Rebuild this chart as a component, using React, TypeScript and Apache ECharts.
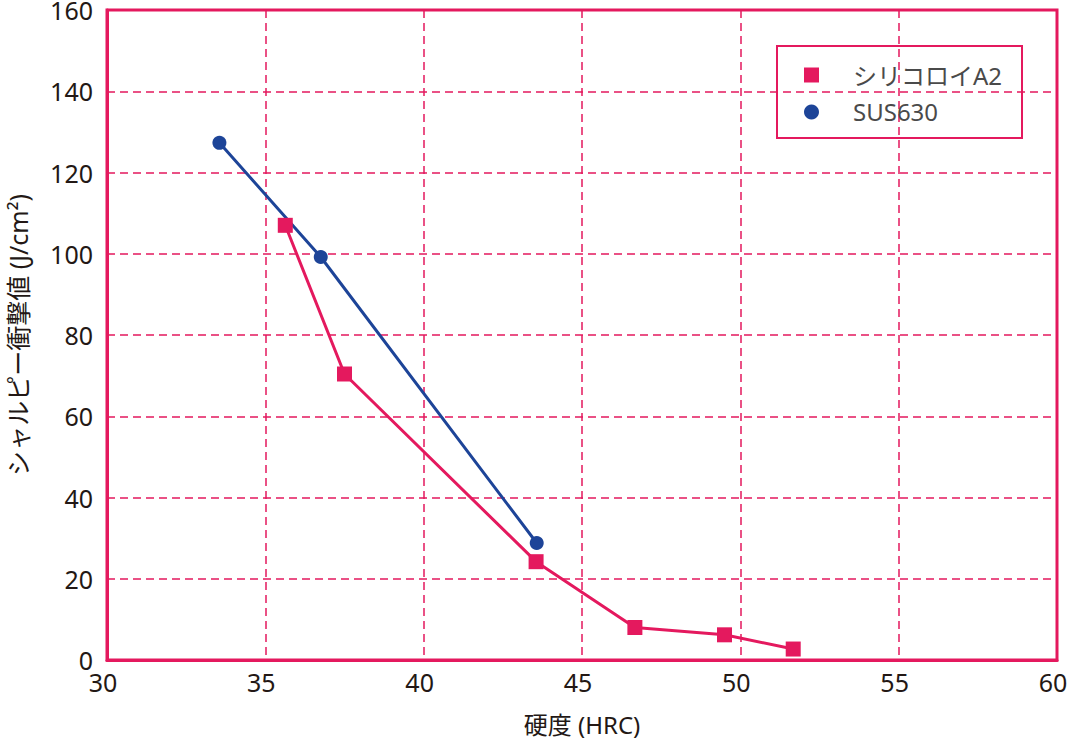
import React, { useEffect, useRef } from "react";
import * as echarts from "echarts";

const seriesNames = ["シリコロイA2", "SUS630"];
const siliconoyA2: [number, number][] = [
  [35.63, 107.0],
  [37.5, 70.4],
  [43.55, 24.2],
  [46.67, 8.0],
  [49.5, 6.2],
  [51.67, 2.7],
];
const sus630: [number, number][] = [
  [33.55, 127.3],
  [36.75, 99.2],
  [43.57, 28.8],
];
const xAxisName = "硬度 (HRC)";
const yAxisName = "シャルピー衝撃値 (J/cm²)";

const PINK = "#E4195E";
const BLUE = "#1D4498";
const TXT = "#231815";
const FONT = "'Noto Sans', 'Noto Sans CJK JP', sans-serif";

export default function App() {
  const ref = useRef<HTMLDivElement>(null);
  useEffect(() => {
    if (!ref.current) return;
    const chart = echarts.init(ref.current, undefined, { renderer: "svg" });
    chart.setOption({
      animation: false,
      backgroundColor: "#ffffff",
      textStyle: { fontFamily: FONT },
      grid: {
        left: 107,
        right: 18,
        top: 10,
        bottom: 82,
        show: true,
        borderColor: PINK,
        borderWidth: 3,
        containLabel: false,
        outerBoundsMode: "none",
      },
      legend: {
        data: [
          { name: seriesNames[0], icon: "rect" },
          { name: seriesNames[1], icon: "circle" },
        ],
        orient: "vertical",
        left: 804,
        top: 63,
        padding: 0,
        itemGap: 13,
        itemWidth: 15,
        itemHeight: 15,
        textStyle: {
          fontFamily: FONT,
          fontSize: 24,
          color: "#4a4a4a",
          padding: [0, 0, 0, 29],
        },
      },
      graphic: [
        {
          type: "rect",
          shape: { x: 777, y: 46, width: 245, height: 92 },
          style: { fill: "#ffffff", stroke: PINK, lineWidth: 2 },
          z: 0,
          zlevel: 0,
        },
      ],
      xAxis: {
        type: "value",
        min: 30,
        max: 60,
        interval: 5,
        name: xAxisName,
        nameLocation: "middle",
        nameGap: 52,
        nameTextStyle: { fontFamily: FONT, fontSize: 24, color: TXT },
        axisLine: { show: true, lineStyle: { color: PINK, width: 3 } },
        axisTick: { show: false },
        axisLabel: {
          fontFamily: FONT,
          fontSize: 25,
          lineHeight: 20,
          color: TXT,
          margin: 12,
          padding: [0, 8, 0, 0],
        },
        splitLine: {
          show: true,
          lineStyle: { color: PINK, width: 1.5, type: [8, 5] },
        },
      },
      yAxis: {
        type: "value",
        min: 0,
        max: 160,
        interval: 20,
        name: yAxisName,
        nameLocation: "middle",
        nameGap: 77,
        nameRotate: 90,
        nameTextStyle: { fontFamily: FONT, fontSize: 25, color: TXT },
        axisLine: { show: true, lineStyle: { color: PINK, width: 3 } },
        axisTick: { show: false },
        axisLabel: {
          fontFamily: FONT,
          fontSize: 25,
          lineHeight: 20,
          color: TXT,
          margin: 14,
        },
        splitLine: {
          show: true,
          lineStyle: { color: PINK, width: 1.5, type: [8, 5] },
        },
      },
      series: [
        {
          name: seriesNames[1],
          type: "line",
          data: sus630,
          symbol: "circle",
          symbolSize: 14,
          itemStyle: { color: BLUE },
          lineStyle: { color: BLUE, width: 3 },
          z: 3,
        },
        {
          name: seriesNames[0],
          type: "line",
          data: siliconoyA2,
          symbol: "rect",
          symbolSize: 15,
          itemStyle: { color: PINK },
          lineStyle: { color: PINK, width: 3 },
          z: 4,
        },
      ],
    });
    return () => chart.dispose();
  }, []);
  return (
    <div
      ref={ref}
      style={{ position: "absolute", left: 0, top: 0, width: 1075, height: 742 }}
    />
  );
}
